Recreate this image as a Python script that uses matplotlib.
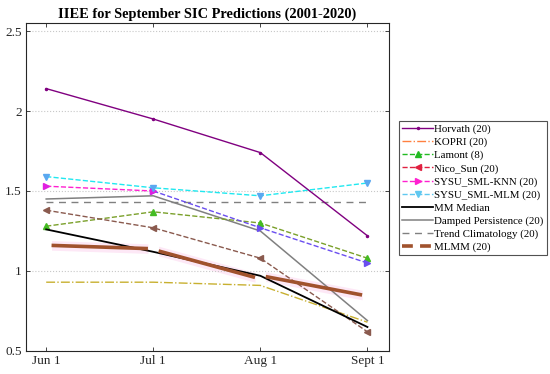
import matplotlib
matplotlib.use("Agg")
import matplotlib.pyplot as plt
from matplotlib.lines import Line2D
import numpy as np

plt.rcParams['font.family'] = ['Liberation Serif', 'DejaVu Serif']

months = ["Jun 1", "Jul 1", "Aug 1", "Sept 1"]
x = np.arange(len(months))

horvath = [2.14, 1.95, 1.74, 1.22]
kopri = [0.93, 0.93, 0.91, 0.68]
lamont = [1.28, 1.37, 1.30, 1.08]
nico_sun = [1.38, 1.27, 1.08, 0.62]
knn = [1.53, 1.50, 1.27, 1.05]
mlm = [1.59, 1.52, 1.47, 1.55]
mm_median = [1.26, 1.12, 0.97, 0.65]
damped = [1.45, 1.47, 1.25, 0.69]
trend_clim = [1.43, 1.43, 1.43, 1.43]
# MLMM is drawn as one segment per month (start value, end value)
mlmm_start = [1.16, 1.125, 0.965]
mlmm_end = [1.14, 0.96, 0.85]

fig = plt.figure(figsize=(5.5, 3.74), dpi=100)
ax = fig.add_axes([0.047, 0.0615, 0.66, 0.877])

# faint pink bands behind the MLMM segments
for i in range(len(mlmm_start)):
    xs = [i + 0.05, i + 0.95]
    ys = np.array([mlmm_start[i], mlmm_end[i]])
    ax.fill_between(xs, ys - 0.03, ys + 0.03, color="#fde8f6", lw=0, zorder=1)

ax.plot(x, trend_clim, color="#808080", ls=(0, (5, 4)), lw=1, zorder=2)
ax.plot(x, damped, color="#808080", ls="-", lw=1.1, zorder=2)
ax.plot(x, kopri, color="#c8b030", ls="-.", lw=1, zorder=2)
ax.plot(x, lamont, color="#7aa02a", ls="--", lw=1, marker="^", ms=4,
        mfc="#44bb22", mec="#44bb22", zorder=3)
ax.plot(x, nico_sun, color="#8a5a4e", ls="--", lw=1, marker="<", ms=4,
        mfc="#8a5a4e", mec="#8a5a4e", zorder=3)
ax.plot(x[1:], knn[1:], color="#6a4ef0", ls="--", lw=1, marker=">", ms=4,
        mfc="#6a4ef0", mec="#6a4ef0", zorder=3)
ax.plot(x[:2], knn[:2], color="#ff20d0", ls="--", lw=1, marker=">", ms=4,
        mfc="#e020e0", mec="#e020e0", zorder=3)
ax.plot(x, mlm, color="#20e8f0", ls="--", lw=1, marker="v", ms=4,
        mfc="#5aa8f0", mec="#5aa8f0", zorder=3)
ax.plot(x, horvath, color="#800080", ls="-", lw=1, marker=".", ms=3, zorder=3)
ax.plot(x, mm_median, color="black", ls="-", lw=1.3, zorder=4)
for i in range(len(mlmm_start)):
    ax.plot([i + 0.05, i + 0.95], [mlmm_start[i], mlmm_end[i]],
            color="#a0522d", lw=2.6, solid_capstyle="butt", zorder=4)

ax.set_xlim(-0.19, 3.2)
ax.set_ylim(0.5, 2.55)
ax.set_xticks(x)
ax.set_xticklabels(months)
ax.set_yticks([0.5, 1, 1.5, 2, 2.5])
ax.set_yticklabels(["0.5", "1", "1.5", "2", "2.5"])
ax.tick_params(direction="in", top=True, right=True, labelsize=9.5, length=3,
               width=0.6, colors="#262626", pad=3)
ax.yaxis.grid(True, ls=":", color="#c8c8c8", lw=0.8)
for s in ax.spines.values():
    s.set_color("#262626")
    s.set_linewidth(0.8)
ax.set_title("IIEE for September SIC Predictions (2001-2020)",
             fontweight="bold", fontsize=10.4, pad=4)

handles = [
    Line2D([], [], color="#800080", lw=1, marker=".", ms=3),
    Line2D([], [], color="#ff8040", lw=1, ls="-."),
    Line2D([], [], color="#22bb22", lw=1, ls="--", marker="^", ms=4),
    Line2D([], [], color="#e02040", lw=1, ls="--", marker="<", ms=4),
    Line2D([], [], color="#ff20d0", lw=1, ls="--", marker=">", ms=4),
    Line2D([], [], color="#60c8f0", lw=1, ls="--", marker="v", ms=4),
    Line2D([], [], color="black", lw=1.3),
    Line2D([], [], color="#808080", lw=1.1),
    Line2D([], [], color="#808080", lw=1, ls=(0, (5, 4))),
    Line2D([], [], color="#a0522d", lw=2.6, ls=(0, (3, 2))),
]
labels = ["Horvath (20)", "KOPRI (20)", "Lamont (8)", "Nico_Sun (20)",
          "SYSU_SML-KNN (20)", "SYSU_SML-MLM (20)", "MM Median",
          "Damped Persistence (20)", "Trend Climatology (20)", "MLMM (20)"]
leg = fig.legend(handles, labels, loc="upper left",
                 bbox_to_anchor=(0.725, 0.676), fontsize=7.8, frameon=True,
                 fancybox=False, edgecolor="#262626", handlelength=2.9,
                 handletextpad=0.1, labelspacing=0.3, borderpad=0.3,
                 borderaxespad=0)
leg.get_frame().set_linewidth(0.8)

fig.savefig("out.png", dpi=100)
